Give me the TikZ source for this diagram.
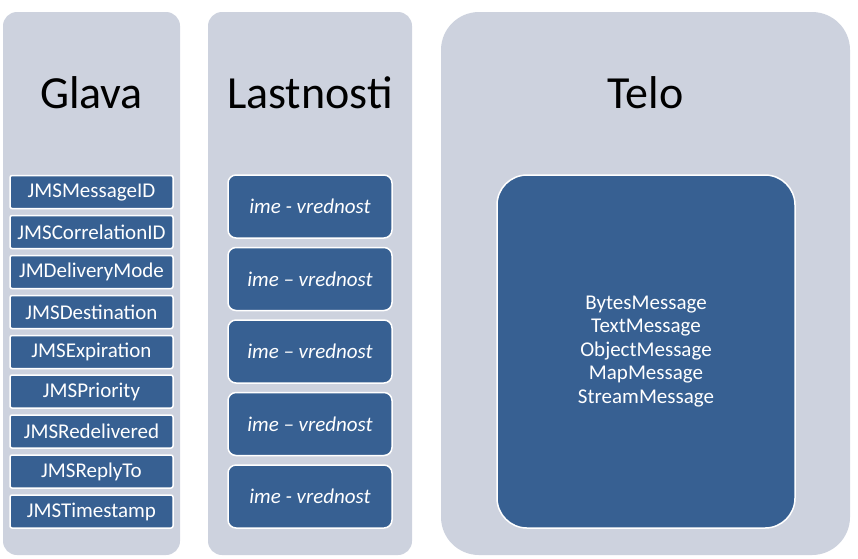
\documentclass[tikz,border=0pt]{standalone}
\usepackage{fontspec}
\setmainfont{Carlito}
\usetikzlibrary{positioning}

\definecolor{panelgrey}{RGB}{205,210,222}
\definecolor{boxblue}{RGB}{55,96,146}

\tikzset{
	panel/.style={fill=panelgrey},
	title/.style={anchor=base, text=black, font=\fontsize{46}{55}\selectfont},
	fieldbox/.style={draw=white, line width=1.5pt, fill=boxblue, text=white, rounded corners=2pt,
		minimum width=163pt, minimum height=33pt, inner sep=0pt, font=\fontsize{21}{25}\selectfont},
	propbox/.style={draw=white, line width=1.5pt, fill=boxblue, text=white, rounded corners=8pt,
		minimum width=164pt, minimum height=63pt, inner sep=0pt, font=\fontsize{21}{25}\selectfont\itshape},
	bodybox/.style={draw=white, line width=1.5pt, fill=boxblue, text=white, rounded corners=30pt,
		minimum width=298pt, minimum height=353pt, inner sep=0pt, align=center,
		font=\fontsize{21}{23.5}\selectfont}
}

\begin{document}
\begin{tikzpicture}[x=1pt, y=-1pt]

\def\width{858}
\def\height{558}
\def\top{12}
\def\bot{555}

\path [use as bounding box] (0,0) rectangle (\width,\height);

% PANELS
\fill [panel, rounded corners=14pt] (3,\top) rectangle (180,\bot);
\fill [panel, rounded corners=14pt] (208,\top) rectangle (412,\bot);
\fill [panel, rounded corners=38pt] (441,\top) rectangle (850,\bot);

% TITLES
\node [title] (glava) at (91.5,108) {Glava};
\node [title] (lastnosti) at (310,108) {Lastnosti};
\node [title] (telo) at (645.5,108) {Telo};

% HEADER FIELDS
\node [fieldbox] (f1) at (91.5,192) {JMSMessageID};
\node [fieldbox] (f2) at (91.5,232) {JMSCorrelationID};
\node [fieldbox] (f3) at (91.5,272) {JMDeliveryMode};
\node [fieldbox] (f4) at (91.5,312) {JMSDestination};
\node [fieldbox] (f5) at (91.5,352) {JMSExpiration};
\node [fieldbox] (f6) at (91.5,391.5) {JMSPriority};
\node [fieldbox] (f7) at (91.5,431.5) {JMSRedelivered};
\node [fieldbox] (f8) at (91.5,471.5) {JMSReplyTo};
\node [fieldbox] (f9) at (91.5,511.5) {JMSTimestamp};

% PROPERTIES
\node [propbox] (p1) at (310,206.5) {ime - vrednost};
\node [propbox] (p2) at (310,279) {ime -- vrednost};
\node [propbox] (p3) at (310,351.5) {ime -- vrednost};
\node [propbox] (p4) at (310,424) {ime -- vrednost};
\node [propbox] (p5) at (310,496.5) {ime - vrednost};

% BODY
\node [bodybox] (body) at (646,351.5) {BytesMessage\\TextMessage\\ObjectMessage\\MapMessage\\StreamMessage};

\end{tikzpicture}
\end{document}
